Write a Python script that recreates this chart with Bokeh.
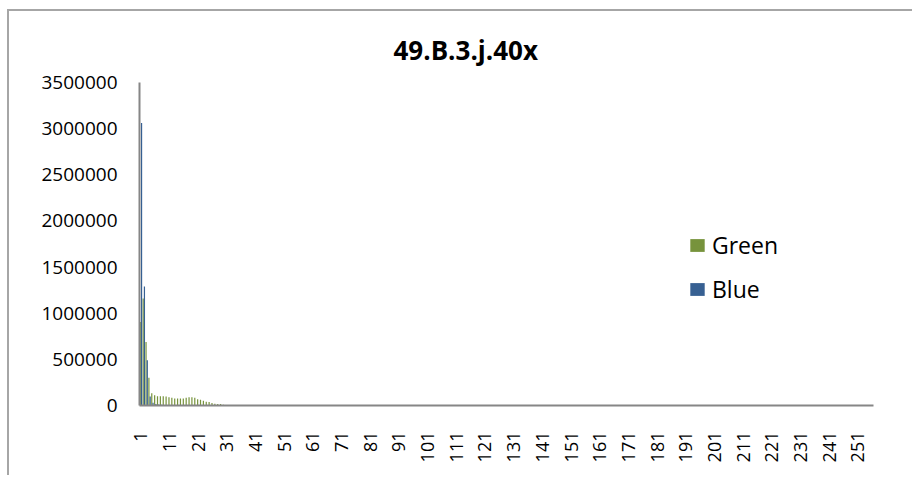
import math
from bokeh.plotting import figure
from bokeh.models import ColumnDataSource, FixedTicker, BasicTickFormatter, Legend, LegendItem, Range1d
from bokeh.transform import dodge
from bokeh.embed import file_html
from bokeh.resources import INLINE

title_text = "49.B.3.j.40x"
series_names = ["Green", "Blue"]
bins = list(range(1, 257))

green_head = [905000, 1160000, 688000, 300000, 134000, 112000, 101000, 101000, 101000, 97000,
              90000, 83000, 76000, 76000, 76000, 76000, 83000, 90000, 90000, 83000,
              69000, 62000, 52000, 41000, 38000, 27000, 20000, 16000, 16000, 8000, 5000]
blue_head = [3060000, 1290000, 489000, 98000, 30000, 15000, 10000, 8000, 6000, 5000,
             4000, 3000, 3000, 2000, 2000, 2000]

green = green_head + [0] * (len(bins) - len(green_head))
blue = blue_head + [0] * (len(bins) - len(blue_head))

x_ticks = list(range(1, 257, 10))
y_ticks = [0, 500000, 1000000, 1500000, 2000000, 2500000, 3000000, 3500000]

GREEN = "#77933C"
BLUE = "#376092"
AXIS = "#868686"
FONT = "Open Sans"
NAN = float("nan")

src = ColumnDataSource(dict(x=bins, green=green, blue=blue))

p = figure(width=905, height=466, output_backend="svg", toolbar_location=None,
           x_range=Range1d(0.5, 256.5), y_range=Range1d(0, 3500000),
           min_border_left=130, min_border_right=41, min_border_top=71, min_border_bottom=72,
           styles={"margin-left": "7px", "margin-top": "9px",
                   "border-left": "2px solid #a6a6a6", "border-top": "2px solid #a6a6a6"})

p.vbar(x=dodge("x", -0.22, range=p.x_range), top="green", width=0.42, source=src,
       fill_color=GREEN, line_color=None)
p.vbar(x=dodge("x", 0.22, range=p.x_range), top="blue", width=0.42, source=src,
       fill_color=BLUE, line_color=None)

# legend swatches only (undrawn NaN geometry)
lg = p.quad(left=[NAN], right=[NAN], top=[NAN], bottom=[NAN], fill_color=GREEN, line_color=None)
lb = p.quad(left=[NAN], right=[NAN], top=[NAN], bottom=[NAN], fill_color=BLUE, line_color=None)

p.title.text = title_text
p.title.text_font = FONT
p.title.text_font_size = "26px"
p.title.text_font_style = "bold"
p.title.text_color = "#000000"
p.title.align = "left"
p.title.offset = 254
p.title.standoff = 30

p.xgrid.visible = False
p.ygrid.visible = False
p.outline_line_color = None

for ax in (p.xaxis[0], p.yaxis[0]):
    ax.axis_line_color = AXIS
    ax.axis_line_width = 2
    ax.major_tick_line_color = None
    ax.minor_tick_line_color = None
    ax.major_label_text_font = FONT
    ax.major_label_text_color = "#000000"

p.xaxis[0].ticker = FixedTicker(ticks=x_ticks)
p.xaxis[0].major_label_orientation = math.pi / 2
p.xaxis[0].major_label_standoff = 20
p.xaxis[0].major_label_text_font_size = "18px"
p.yaxis[0].ticker = FixedTicker(ticks=y_ticks)
p.yaxis[0].formatter = BasicTickFormatter(use_scientific=False)
p.yaxis[0].major_label_standoff = 16
p.yaxis[0].major_label_text_font_size = "19px"

legend = Legend(items=[LegendItem(label=series_names[0], renderers=[lg], index=0),
                       LegendItem(label=series_names[1], renderers=[lb], index=0)],
                location=(549, 100), padding=0, margin=0, spacing=12,
                glyph_width=18, glyph_height=16, label_height=30, label_standoff=6,
                label_text_font=FONT, label_text_font_size="23px", label_text_color="#000000",
                border_line_color=None, background_fill_alpha=0)
p.add_layout(legend)

open("out.html", "w").write(file_html(p, INLINE))
